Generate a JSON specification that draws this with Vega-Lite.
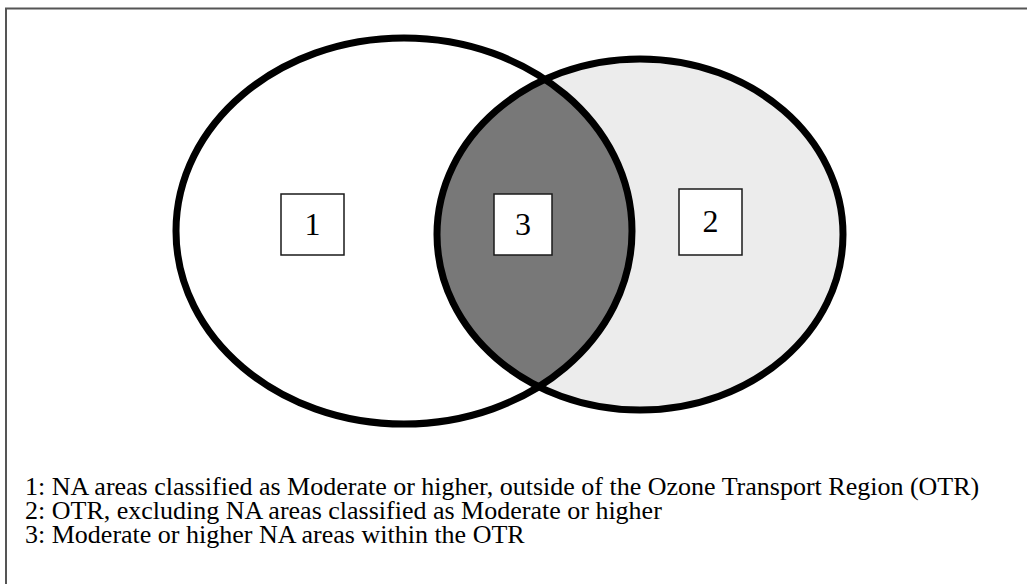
{
  "$schema": "https://vega.github.io/schema/vega-lite/v6.json",
  "width": 1027,
  "height": 584,
  "padding": 0,
  "autosize": {"type": "none"},
  "background": "white",
  "config": {"view": {"stroke": null}},
  "datasets": {
    "sets": [
      {"set": "Left", "cx": 404, "cy": 231},
      {"set": "Right", "cx": 640, "cy": 234.5}
    ],
    "lens": [
      {"region": "3", "cx": 540, "cy": 233}
    ],
    "boxes": [
      {"label": "1", "x0": 281, "x1": 344, "y0": 194, "y1": 255, "cx": 312.5, "cy": 225},
      {"label": "3", "x0": 494, "x1": 552, "y0": 194, "y1": 255, "cx": 523, "cy": 225},
      {"label": "2", "x0": 679, "x1": 742, "y0": 189, "y1": 255, "cx": 710.5, "cy": 222}
    ],
    "legend": [
      {"text": "1: NA areas classified as Moderate or higher, outside of the Ozone Transport Region (OTR)", "x": 25, "y": 495},
      {"text": "2: OTR, excluding NA areas classified as Moderate or higher", "x": 25, "y": 519},
      {"text": "3: Moderate or higher NA areas within the OTR", "x": 25, "y": 543}
    ],
    "frame": [
      {"x": 5, "x2": 1027, "y": 8.5, "y2": 8.5},
      {"x": 6, "x2": 6, "y": 8, "y2": 584}
    ]
  },
  "layer": [
    {
      "data": {"name": "sets"},
      "transform": [{"filter": "datum.set == 'Right'"}],
      "mark": {"type": "point", "shape": "M -203 0 A 203 175.5 0 1 1 203 0 A 203 175.5 0 1 1 -203 0 Z", "size": 4, "filled": true, "fill": "#ececec", "strokeWidth": 0, "opacity": 1},
      "encoding": {
        "x": {"field": "cx", "type": "quantitative", "scale": {"domain": [0, 1027], "nice": false, "zero": false}, "axis": null},
        "y": {"field": "cy", "type": "quantitative", "scale": {"domain": [0, 584], "nice": false, "zero": false, "reverse": true}, "axis": null}
      }
    },
    {
      "data": {"name": "lens"},
      "mark": {"type": "point", "shape": "M 5.1 -153.6 A 228 193 0 0 1 -1.2 153.6 A 203 175.5 0 0 1 5.1 -153.6 Z", "size": 4, "filled": true, "fill": "#787878", "strokeWidth": 0, "opacity": 1},
      "encoding": {
        "x": {"field": "cx", "type": "quantitative", "scale": {"domain": [0, 1027], "nice": false, "zero": false}, "axis": null},
        "y": {"field": "cy", "type": "quantitative", "scale": {"domain": [0, 584], "nice": false, "zero": false, "reverse": true}, "axis": null}
      }
    },
    {
      "data": {"name": "sets"},
      "transform": [{"filter": "datum.set == 'Left'"}],
      "mark": {"type": "point", "shape": "M -228 0 A 228 193 0 1 1 228 0 A 228 193 0 1 1 -228 0 Z", "size": 4, "filled": false, "stroke": "black", "strokeWidth": 7, "opacity": 1},
      "encoding": {
        "x": {"field": "cx", "type": "quantitative", "scale": {"domain": [0, 1027], "nice": false, "zero": false}, "axis": null},
        "y": {"field": "cy", "type": "quantitative", "scale": {"domain": [0, 584], "nice": false, "zero": false, "reverse": true}, "axis": null}
      }
    },
    {
      "data": {"name": "sets"},
      "transform": [{"filter": "datum.set == 'Right'"}],
      "mark": {"type": "point", "shape": "M -203 0 A 203 175.5 0 1 1 203 0 A 203 175.5 0 1 1 -203 0 Z", "size": 4, "filled": false, "stroke": "black", "strokeWidth": 7, "opacity": 1},
      "encoding": {
        "x": {"field": "cx", "type": "quantitative", "scale": {"domain": [0, 1027], "nice": false, "zero": false}, "axis": null},
        "y": {"field": "cy", "type": "quantitative", "scale": {"domain": [0, 584], "nice": false, "zero": false, "reverse": true}, "axis": null}
      }
    },
    {
      "data": {"name": "boxes"},
      "mark": {"type": "rect", "fill": "white", "stroke": "#1a1a1a", "strokeWidth": 1.5},
      "encoding": {
        "x": {"field": "x0", "type": "quantitative", "scale": {"domain": [0, 1027], "nice": false, "zero": false}, "axis": null},
        "x2": {"field": "x1"},
        "y": {"field": "y0", "type": "quantitative", "scale": {"domain": [0, 584], "nice": false, "zero": false, "reverse": true}, "axis": null},
        "y2": {"field": "y1"}
      }
    },
    {
      "data": {"name": "boxes"},
      "mark": {"type": "text", "font": "Liberation Serif", "fontSize": 32, "align": "center", "baseline": "middle", "color": "black"},
      "encoding": {
        "x": {"field": "cx", "type": "quantitative", "scale": {"domain": [0, 1027], "nice": false, "zero": false}, "axis": null},
        "y": {"field": "cy", "type": "quantitative", "scale": {"domain": [0, 584], "nice": false, "zero": false, "reverse": true}, "axis": null},
        "text": {"field": "label"}
      }
    },
    {
      "data": {"name": "legend"},
      "mark": {"type": "text", "font": "Liberation Serif", "fontSize": 26, "align": "left", "baseline": "alphabetic", "color": "black"},
      "encoding": {
        "x": {"field": "x", "type": "quantitative", "scale": {"domain": [0, 1027], "nice": false, "zero": false}, "axis": null},
        "y": {"field": "y", "type": "quantitative", "scale": {"domain": [0, 584], "nice": false, "zero": false, "reverse": true}, "axis": null},
        "text": {"field": "text"}
      }
    },
    {
      "data": {"name": "frame"},
      "mark": {"type": "rule", "color": "#555555", "strokeWidth": 2},
      "encoding": {
        "x": {"field": "x", "type": "quantitative", "scale": {"domain": [0, 1027], "nice": false, "zero": false}, "axis": null},
        "x2": {"field": "x2"},
        "y": {"field": "y", "type": "quantitative", "scale": {"domain": [0, 584], "nice": false, "zero": false, "reverse": true}, "axis": null},
        "y2": {"field": "y2"}
      }
    }
  ]
}
